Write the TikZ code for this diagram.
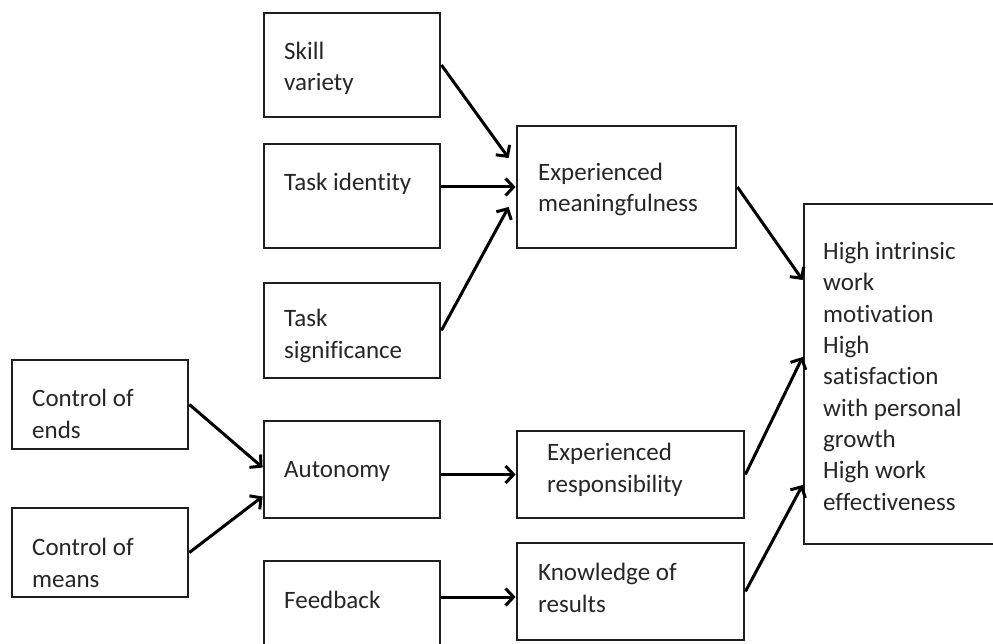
\documentclass[tikz,border=0pt]{standalone}
\usepackage{fontspec}
\setmainfont[Ligatures=NoCommon]{Carlito}
\usetikzlibrary{arrows.meta,calc}
\begin{document}
\begin{tikzpicture}[x=1pt,y=-1pt,
  box/.style={draw=black!88, line width=2.8pt, inner sep=0pt},
  lbl/.style={anchor=base west, align=left, inner sep=0pt,
    font=\fontsize{25}{31.3}\selectfont, text=black!85},
  link/.style={draw=black, line width=3pt,
    -{Straight Barb[length=8pt,width=17pt]}}]
\useasboundingbox (0,0) rectangle (993,644);
\fill[white] (0,0) rectangle (993,644);
\clip (0,0) rectangle (993,644);

% job characteristics and sources
\node[box, minimum width=176pt, minimum height=104pt] (sv) at (352,65) {};
\node[box, minimum width=176pt, minimum height=104pt] (ti) at (352,196) {};
\node[box, minimum width=176pt, minimum height=95pt]  (ts) at (352,330.5) {};
\node[box, minimum width=176pt, minimum height=89pt]  (ce) at (100,404.5) {};
\node[box, minimum width=176pt, minimum height=89pt]  (cm) at (100,552.5) {};
\node[box, minimum width=176pt, minimum height=97pt]  (au) at (352,469.5) {};
\node[box, minimum width=176pt, minimum height=118pt] (fb) at (352,620) {};

% psychological states
\node[box, minimum width=219pt, minimum height=122pt] (em) at (626.5,187) {};
\node[box, minimum width=227pt, minimum height=87pt]  (er) at (630.5,474.5) {};
\node[box, minimum width=227pt, minimum height=97pt]  (kr) at (630.5,591.5) {};

% outcomes
\node[box, minimum width=216pt, minimum height=340pt] (out) at (912,374) {};

% labels (anchored at the baseline of their last line)
\node[lbl] (tsv) at (284,91)  {Skill\\variety};
\node[lbl] (tti) at (284,191) {Task identity};
\node[lbl] (tts) at (284,358) {Task\\significance};
\node[lbl] (tce) at (32,438)  {Control of\\ends};
\node[lbl] (tcm) at (32,587)  {Control of\\means};
\node[lbl] (tau) at (284,477) {Autonomy};
\node[lbl] (tfb) at (284,608) {Feedback};
\node[lbl] (tem) at (538,212) {Experienced\\meaningfulness};
\node[lbl] (ter) at (547,492) {Experienced\\responsibility};
\node[lbl] (tkr) at (538,612) {Knowledge of\\results};
\node[lbl] (tout) at (823,510) {High intrinsic\\work\\motivation\\High\\satisfaction\\with personal\\growth\\High work\\effectiveness};

% connectors
\draw[link] (sv.east) -- ($(em.west)+(-7,-29)$);
\draw[link] (ti.east |- em.west) -- (em.west);
\draw[link] (ts.east) -- ($(em.west)+(-7,20)$);

\draw[link] (ce.east) -- ($(au.west)+(0,-2)$);
\draw[link] (cm.east) -- ($(au.west)+(0,27)$);
\draw[link] (au.east |- er.west) -- (er.west);
\coordinate (krin) at ($(kr.west)+(0,5.5)$);
\draw[link] (fb.east |- krin) -- (krin);

\draw[link] (em.east) -- ($(out.west)+(0,-94)$);
\draw[link] (er.east) -- ($(out.west)+(0,-17)$);
\draw[link] (kr.east) -- ($(out.west)+(0,111)$);
\end{tikzpicture}
\end{document}
